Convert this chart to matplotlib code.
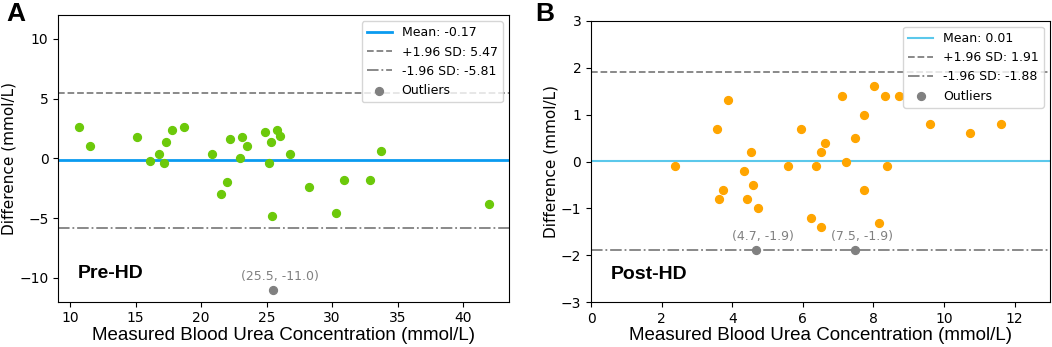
import matplotlib.pyplot as plt

# Panel A: Pre-HD
pre_x = [10.7, 11.5, 15.1, 16.1, 16.8, 17.3, 17.2, 17.8, 18.7, 20.8, 21.5, 22.0, 22.2,
         23.0, 23.1, 23.5, 24.9, 25.2, 25.3, 25.4, 25.8, 26.0, 26.8, 28.2, 30.3, 30.9,
         32.9, 33.7, 42.0]
pre_y = [2.6, 1.0, 1.8, -0.2, 0.4, 1.4, -0.4, 2.4, 2.6, 0.4, -3.0, -2.0, 1.6,
         0.0, 1.8, 1.0, 2.2, -0.4, 1.4, -4.8, 2.4, 1.9, 0.4, -2.4, -4.6, -1.8,
         -1.8, 0.6, -3.8]
pre_out_x = [25.5]
pre_out_y = [-11.0]
pre_mean, pre_upper, pre_lower = -0.17, 5.47, -5.81

# Panel B: Post-HD
post_x = [2.38, 3.57, 3.87, 3.73, 3.62, 4.32, 4.52, 4.58, 4.42, 4.72, 5.58, 5.96, 6.22,
          6.38, 6.51, 6.62, 6.51, 7.12, 7.22, 7.47, 7.72, 7.72, 8.02, 8.17, 8.32, 8.37,
          8.73, 9.61, 10.72, 11.61]
post_y = [-0.1, 0.7, 1.3, -0.6, -0.8, -0.2, 0.2, -0.5, -0.8, -1.0, -0.1, 0.7, -1.2,
          -0.1, 0.2, 0.4, -1.4, 1.4, 0.0, 0.5, 1.0, -0.6, 1.6, -1.3, 1.4, -0.1,
          1.4, 0.8, 0.6, 0.8]
post_out_x = [4.66, 7.47]
post_out_y = [-1.89, -1.89]
post_mean, post_upper, post_lower = 0.01, 1.91, -1.88

ARIAL = "Liberation Sans"


def bland_altman(ax, x, y, out_x, out_y, mean, upper, lower, dot_color, mean_color,
                 mean_lw, title):
    ax.scatter(x, y, s=32, color=dot_color, zorder=3)
    ax.axhline(mean, color=mean_color, lw=mean_lw, label=f"Mean: {mean:.2f}")
    ax.axhline(upper, color="gray", ls="--", lw=1.3, label=f"+1.96 SD: {upper:.2f}")
    ax.axhline(lower, color="gray", ls="-.", lw=1.3, label=f"-1.96 SD: {lower:.2f}")
    ax.scatter(out_x, out_y, s=32, color="gray", zorder=3, label="Outliers")
    for ox, oy in zip(out_x, out_y):
        ax.annotate(f"({ox:.1f}, {oy:.1f})", (ox, oy), xytext=(5, 5),
                    textcoords="offset points", ha="center", va="bottom",
                    color="gray", fontsize=9)
    ax.text(0.043, 0.1, title, transform=ax.transAxes, fontsize=14,
            fontweight="bold", va="center", family=ARIAL)
    ax.set_xlabel("Measured Blood Urea Concentration (mmol/L)", fontsize=13.5,
                  family=ARIAL, labelpad=1)
    ax.set_ylabel("Difference (mmol/L)", fontsize=11, labelpad=2)
    ax.tick_params(labelsize=10)
    ax.legend(loc="upper right", fontsize=9)


fig = plt.figure(figsize=(10.52, 3.47), dpi=100)
ax1 = fig.add_axes([0.0554, 0.1305, 0.4284, 0.826])
ax2 = fig.add_axes([0.5618, 0.1288, 0.4363, 0.8115])

bland_altman(ax1, pre_x, pre_y, pre_out_x, pre_out_y, pre_mean, pre_upper, pre_lower,
             "#6cc90a", "#0a9bf0", 2.0, "Pre-HD")
ax1.set_xlim(9.1, 43.5)
ax1.set_ylim(-12, 12)
ax1.set_yticks([-10, -5, 0, 5, 10])

bland_altman(ax2, post_x, post_y, post_out_x, post_out_y, post_mean, post_upper,
             post_lower, "#ffa500", "#5bc8eb", 1.5, "Post-HD")
ax2.set_xlim(0, 13)
ax2.set_ylim(-3, 3)
ax2.set_xticks([0, 2, 4, 6, 8, 10, 12])

fig.text(0.006, 0.995, "A", fontsize=19, fontweight="bold", va="top", family=ARIAL)
fig.text(0.509, 0.995, "B", fontsize=19, fontweight="bold", va="top", family=ARIAL)

fig.savefig("out.png", dpi=100)
